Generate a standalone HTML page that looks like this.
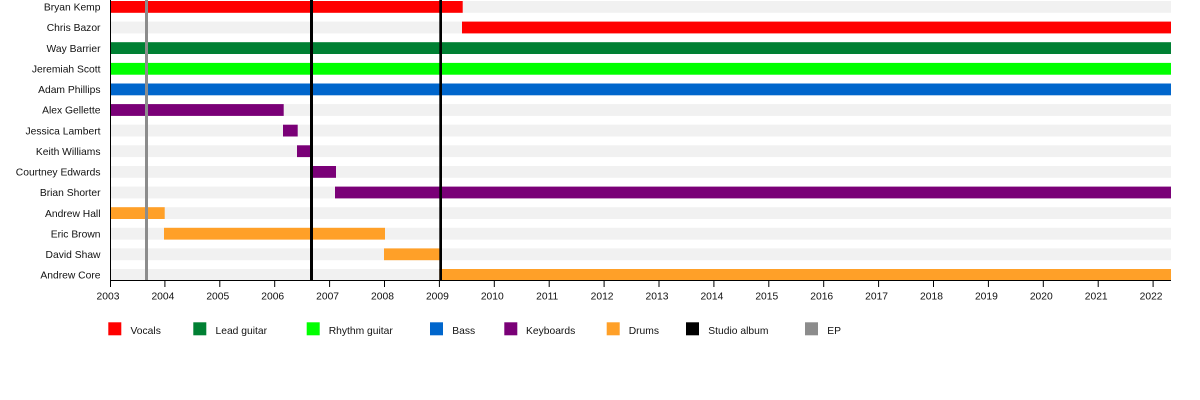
<!DOCTYPE html>
<html>
<head>
<meta charset="utf-8">
<style>
html,body{margin:0;padding:0;background:#fff;}
svg{display:block;}
text{font-family:"Liberation Sans",Arial,sans-serif;font-size:10.3px;fill:#111;}
</style>
</head>
<body>
<svg width="1200" height="400" viewBox="0 0 1200 400" xmlns="http://www.w3.org/2000/svg">
<rect x="0" y="0" width="1200" height="400" fill="#fff"/>
<!-- stripes -->
<g fill="#f1f1f1">
<rect x="111" y="1" width="1060" height="11.8"/>
<rect x="111" y="21.6" width="1060" height="11.8"/>
<rect x="111" y="42.2" width="1060" height="11.8"/>
<rect x="111" y="62.9" width="1060" height="11.8"/>
<rect x="111" y="83.5" width="1060" height="11.8"/>
<rect x="111" y="104.1" width="1060" height="11.8"/>
<rect x="111" y="124.7" width="1060" height="11.8"/>
<rect x="111" y="145.3" width="1060" height="11.8"/>
<rect x="111" y="166" width="1060" height="11.8"/>
<rect x="111" y="186.6" width="1060" height="11.8"/>
<rect x="111" y="207.2" width="1060" height="11.8"/>
<rect x="111" y="227.8" width="1060" height="11.8"/>
<rect x="111" y="248.4" width="1060" height="11.8"/>
<rect x="111" y="269" width="1060" height="11.8"/>
</g>
<!-- bars -->
<rect x="111" y="1" width="351.7" height="11.8" fill="#ff0000"/>
<rect x="462" y="21.6" width="709" height="11.8" fill="#ff0000"/>
<rect x="111" y="42.2" width="1060" height="11.8" fill="#008033"/>
<rect x="111" y="62.9" width="1060" height="11.8" fill="#00ff00"/>
<rect x="111" y="83.5" width="1060" height="11.8" fill="#0066cc"/>
<rect x="111" y="104.1" width="172.7" height="11.8" fill="#7a0077"/>
<rect x="283" y="124.7" width="14.7" height="11.8" fill="#7a0077"/>
<rect x="297" y="145.3" width="15.7" height="11.8" fill="#7a0077"/>
<rect x="312" y="166" width="24" height="11.8" fill="#7a0077"/>
<rect x="335" y="186.6" width="836" height="11.8" fill="#7a0077"/>
<rect x="111" y="207.2" width="53.7" height="11.8" fill="#ffa028"/>
<rect x="164" y="227.8" width="221" height="11.8" fill="#ffa028"/>
<rect x="384" y="248.4" width="56" height="11.8" fill="#ffa028"/>
<rect x="439.3" y="269" width="731.7" height="11.8" fill="#ffa028"/>
<!-- event lines -->
<rect x="145" y="0" width="3" height="280" fill="#8c8c8c"/>
<rect x="310" y="0" width="3" height="280" fill="#000"/>
<rect x="439.3" y="0" width="2.7" height="280" fill="#000"/>
<!-- axes -->
<rect x="110" y="0" width="1" height="281" fill="#000"/>
<rect x="110" y="280" width="1061" height="1" fill="#000"/>
<g fill="#000">
<rect x="110" y="280" width="1" height="7"/>
<rect x="164.4" y="280" width="1" height="7"/>
<rect x="219.3" y="280" width="1" height="7"/>
<rect x="274.2" y="280" width="1" height="7"/>
<rect x="329.1" y="280" width="1" height="7"/>
<rect x="384" y="280" width="1" height="7"/>
<rect x="438.9" y="280" width="1" height="7"/>
<rect x="493.8" y="280" width="1" height="7"/>
<rect x="548.7" y="280" width="1" height="7"/>
<rect x="603.6" y="280" width="1" height="7"/>
<rect x="658.5" y="280" width="1" height="7"/>
<rect x="713.4" y="280" width="1" height="7"/>
<rect x="768.3" y="280" width="1" height="7"/>
<rect x="823.2" y="280" width="1" height="7"/>
<rect x="878.1" y="280" width="1" height="7"/>
<rect x="933" y="280" width="1" height="7"/>
<rect x="987.9" y="280" width="1" height="7"/>
<rect x="1042.8" y="280" width="1" height="7"/>
<rect x="1097.7" y="280" width="1" height="7"/>
<rect x="1152.6" y="280" width="1" height="7"/>
</g>
<g text-anchor="middle">
<text x="108" y="299.5">2003</text>
<text x="162.9" y="299.5">2004</text>
<text x="217.8" y="299.5">2005</text>
<text x="272.7" y="299.5">2006</text>
<text x="327.6" y="299.5">2007</text>
<text x="382.5" y="299.5">2008</text>
<text x="437.4" y="299.5">2009</text>
<text x="492.3" y="299.5">2010</text>
<text x="547.2" y="299.5">2011</text>
<text x="602.1" y="299.5">2012</text>
<text x="657" y="299.5">2013</text>
<text x="711.9" y="299.5">2014</text>
<text x="766.8" y="299.5">2015</text>
<text x="821.7" y="299.5">2016</text>
<text x="876.6" y="299.5">2017</text>
<text x="931.5" y="299.5">2018</text>
<text x="986.4" y="299.5">2019</text>
<text x="1041.3" y="299.5">2020</text>
<text x="1096.2" y="299.5">2021</text>
<text x="1151.1" y="299.5">2022</text>
</g>
<!-- row labels -->
<g text-anchor="end">
<text x="100.5" y="10.6">Bryan Kemp</text>
<text x="100.5" y="31.2">Chris Bazor</text>
<text x="100.5" y="51.8">Way Barrier</text>
<text x="100.5" y="72.5">Jeremiah Scott</text>
<text x="100.5" y="93.1">Adam Phillips</text>
<text x="100.5" y="113.7">Alex Gellette</text>
<text x="100.5" y="134.3">Jessica Lambert</text>
<text x="100.5" y="154.9">Keith Williams</text>
<text x="100.5" y="175.6">Courtney Edwards</text>
<text x="100.5" y="196.2">Brian Shorter</text>
<text x="100.5" y="216.8">Andrew Hall</text>
<text x="100.5" y="237.4">Eric Brown</text>
<text x="100.5" y="258">David Shaw</text>
<text x="100.5" y="278.6">Andrew Core</text>
</g>
<!-- legend -->
<rect x="108.3" y="322.3" width="13" height="13" fill="#ff0000"/>
<text x="130.5" y="333.8">Vocals</text>
<rect x="193.3" y="322.3" width="13" height="13" fill="#008033"/>
<text x="215.5" y="333.8">Lead guitar</text>
<rect x="306.7" y="322.3" width="13" height="13" fill="#00ff00"/>
<text x="328.7" y="333.8">Rhythm guitar</text>
<rect x="430" y="322.3" width="13" height="13" fill="#0066cc"/>
<text x="452.3" y="333.8">Bass</text>
<rect x="504.3" y="322.3" width="13" height="13" fill="#7a0077"/>
<text x="526" y="333.8">Keyboards</text>
<rect x="606.7" y="322.3" width="13" height="13" fill="#ffa028"/>
<text x="628.7" y="333.8">Drums</text>
<rect x="686" y="322.3" width="13" height="13" fill="#000"/>
<text x="708.3" y="333.8">Studio album</text>
<rect x="805" y="322.3" width="13" height="13" fill="#8c8c8c"/>
<text x="827.3" y="333.8">EP</text>
</svg>
</body>
</html>
